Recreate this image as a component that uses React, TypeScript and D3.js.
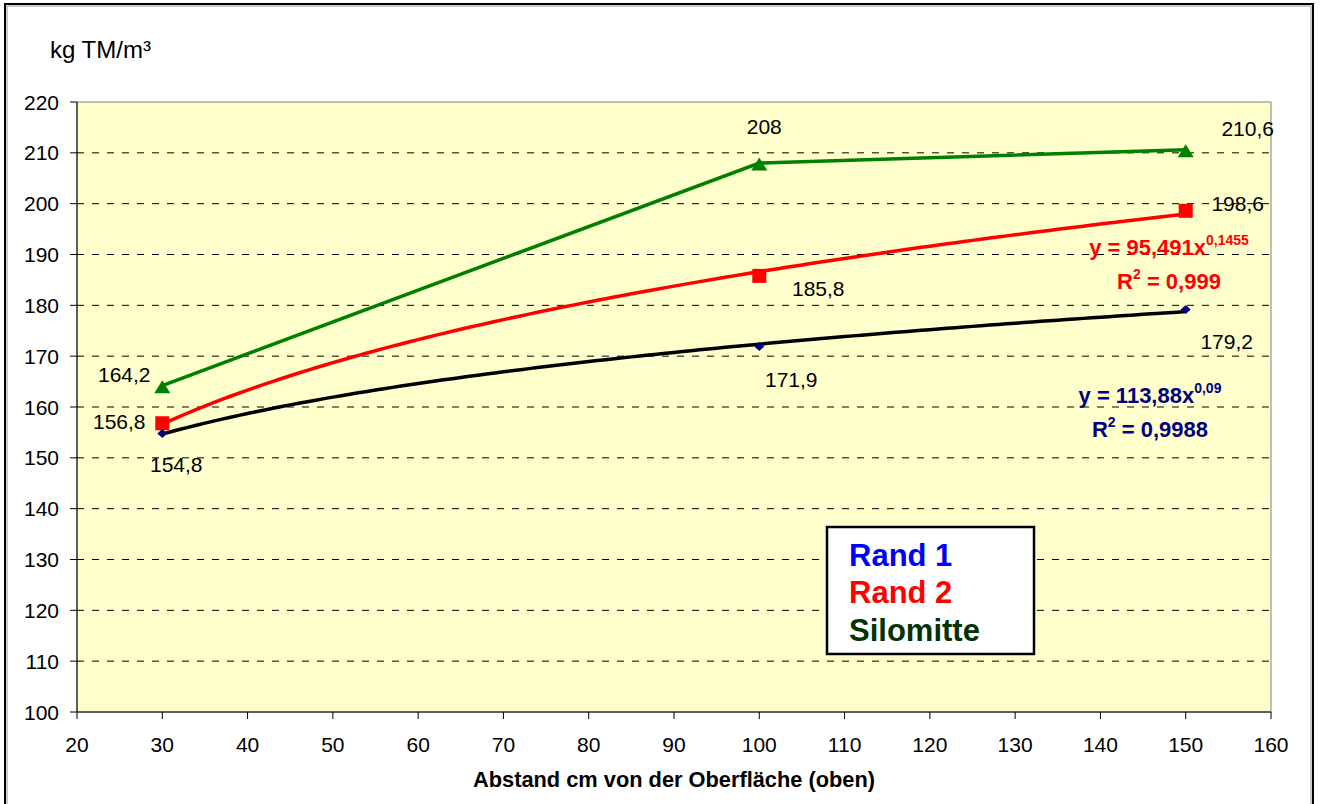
import React from "react";
import * as d3 from "d3";

const xTicks = [20, 30, 40, 50, 60, 70, 80, 90, 100, 110, 120, 130, 140, 150, 160];
const yTicks = [100, 110, 120, 130, 140, 150, 160, 170, 180, 190, 200, 210, 220];

const depths = [30, 100, 150];
const rand1 = [154.8, 171.9, 179.2];
const rand2 = [156.8, 185.8, 198.6];
const silomitte = [164.2, 208, 210.6];

const rand1Label = ["154,8", "171,9", "179,2"];
const rand2Label = ["156,8", "185,8", "198,6"];
const siloLabel = ["164,2", "208", "210,6"];

// power trendline coefficients y = a * x^b
const trend1 = { a: 113.88, b: 0.09 };
const trend2 = { a: 95.491, b: 0.1455 };

const W = 1322;
const H = 804;
const FONT = "'Liberation Sans', Arial, sans-serif";

export default function App() {
  const left = 77, right = 1271, top = 102, bottom = 712;
  const x = d3.scaleLinear().domain([20, 160]).range([left, right]);
  const y = d3.scaleLinear().domain([100, 220]).range([bottom, top]);

  const samples = d3.range(30, 150.01, 1);
  const trendLine = d3.line<number>().x((d) => x(d));
  const t1 = trendLine.y((d) => y(trend1.a * Math.pow(d, trend1.b)))(samples) || "";
  const t2 = trendLine.y((d) => y(trend2.a * Math.pow(d, trend2.b)))(samples) || "";
  const greenPath =
    d3
      .line<number>()
      .x((_, i) => x(depths[i]))
      .y((d) => y(d))(silomitte) || "";

  const tri = "M0,-6.5 L8,6.5 L-8,6.5 Z";
  const dia = "M0,-4.5 L5,0 L0,4.5 L-5,0 Z";

  // label offsets relative to point (dx center, dy baseline)
  const siloOff = [
    [-38, -4],
    [5, -29],
    [62, -14],
  ];
  const r2Off = [
    [-43, 6],
    [59, 20],
    [52, 0],
  ];
  const r1Off = [
    [14, 39],
    [32, 40],
    [41, 40],
  ];
  const LFS = 21;

  return (
    <svg width={W} height={H} style={{ display: "block", position: "absolute", left: 0, top: 0 }} fontFamily={FONT}>
      <rect x={0} y={0} width={W} height={H} fill="#ffffff" />
      {/* outer chart border */}
      <path d={`M5,${H} V4 H1313 V${H}`} fill="none" stroke="#000" strokeWidth={2} />
      <path d={`M7,${H} V6 H1311 V${H}`} fill="none" stroke="#999" strokeWidth={1} />

      {/* plot area */}
      <rect x={left} y={top} width={right - left} height={bottom - top} fill="#FFFFCC" stroke="#808080" strokeWidth={1} />

      {/* gridlines */}
      {yTicks.slice(1, -1).map((t) => (
        <line key={t} x1={left} x2={right} y1={y(t)} y2={y(t)} stroke="#000" strokeWidth={1} strokeDasharray="7,8" />
      ))}

      {/* axes */}
      <line x1={left} x2={left} y1={top} y2={bottom} stroke="#000" strokeWidth={1} />
      <line x1={left} x2={right} y1={bottom} y2={bottom} stroke="#000" strokeWidth={1} />
      {yTicks.map((t) => (
        <g key={t}>
          <line x1={left - 7} x2={left} y1={y(t)} y2={y(t)} stroke="#000" />
          <text x={left - 18} y={y(t) + 7.5} textAnchor="end" fontSize={21} fill="#000">
            {t}
          </text>
        </g>
      ))}
      {xTicks.map((t) => (
        <g key={t}>
          <line x1={x(t)} x2={x(t)} y1={bottom} y2={bottom + 7} stroke="#000" />
          <text x={x(t)} y={752} textAnchor="middle" fontSize={21} fill="#000">
            {t}
          </text>
        </g>
      ))}

      <text x={50} y={58} fontSize={24} fill="#000">kg TM/m³</text>
      <text x={674} y={787} textAnchor="middle" fontSize={21.8} fontWeight="bold" fill="#000">
        Abstand cm von der Oberfläche (oben)
      </text>

      {/* Silomitte */}
      <path d={greenPath} fill="none" stroke="#008000" strokeWidth={3.5} />
      {/* trendlines */}
      <path d={t2} fill="none" stroke="#FF0000" strokeWidth={3.5} />
      <path d={t1} fill="none" stroke="#000000" strokeWidth={3.5} />

      {silomitte.map((v, i) => (
        <path key={"g" + i} d={tri} transform={`translate(${x(depths[i])},${y(v) + 1})`} fill="#008000" />
      ))}
      {rand2.map((v, i) => (
        <rect key={"r" + i} x={x(depths[i]) - 7} y={y(v) - 7} width={14} height={14} fill="#FF0000" />
      ))}
      {rand1.map((v, i) => (
        <path key={"b" + i} d={dia} transform={`translate(${x(depths[i])},${y(v)})`} fill="#000080" />
      ))}

      {/* data labels */}
      {silomitte.map((v, i) => (
        <text key={"gl" + i} x={x(depths[i]) + siloOff[i][0]} y={y(v) + siloOff[i][1]} textAnchor="middle" fontSize={LFS} fill="#000">
          {siloLabel[i]}
        </text>
      ))}
      {rand2.map((v, i) => (
        <text key={"rl" + i} x={x(depths[i]) + r2Off[i][0]} y={y(v) + r2Off[i][1]} textAnchor="middle" fontSize={LFS} fill="#000">
          {rand2Label[i]}
        </text>
      ))}
      {rand1.map((v, i) => (
        <text key={"bl" + i} x={x(depths[i]) + r1Off[i][0]} y={y(v) + r1Off[i][1]} textAnchor="middle" fontSize={LFS} fill="#000">
          {rand1Label[i]}
        </text>
      ))}

      {/* trendline equations */}
      <text x={1169} y={255} textAnchor="middle" fontSize={22} fontWeight="bold" fill="#FF0000">
        y = 95,491x<tspan fontSize={14} dy={-10}>0,1455</tspan>
      </text>
      <text x={1169} y={289} textAnchor="middle" fontSize={22} fontWeight="bold" fill="#FF0000">
        R<tspan fontSize={14} dy={-10}>2</tspan><tspan dy={10}> = 0,999</tspan>
      </text>
      <text x={1150} y={403} textAnchor="middle" fontSize={22} fontWeight="bold" fill="#000080">
        y = 113,88x<tspan fontSize={14} dy={-10}>0,09</tspan>
      </text>
      <text x={1150} y={437} textAnchor="middle" fontSize={22} fontWeight="bold" fill="#000080">
        R<tspan fontSize={14} dy={-10}>2</tspan><tspan dy={10}> = 0,9988</tspan>
      </text>

      {/* legend */}
      <rect x={827} y={527} width={207} height={127} fill="#ffffff" stroke="#000" strokeWidth={2.5} />
      <text x={849} y={566} fontSize={31} fontWeight="bold" fill="#0000FF">Rand 1</text>
      <text x={849} y={603} fontSize={31} fontWeight="bold" fill="#FF0000">Rand 2</text>
      <text x={849} y={641} fontSize={31} fontWeight="bold" fill="#003300">Silomitte</text>
    </svg>
  );
}
